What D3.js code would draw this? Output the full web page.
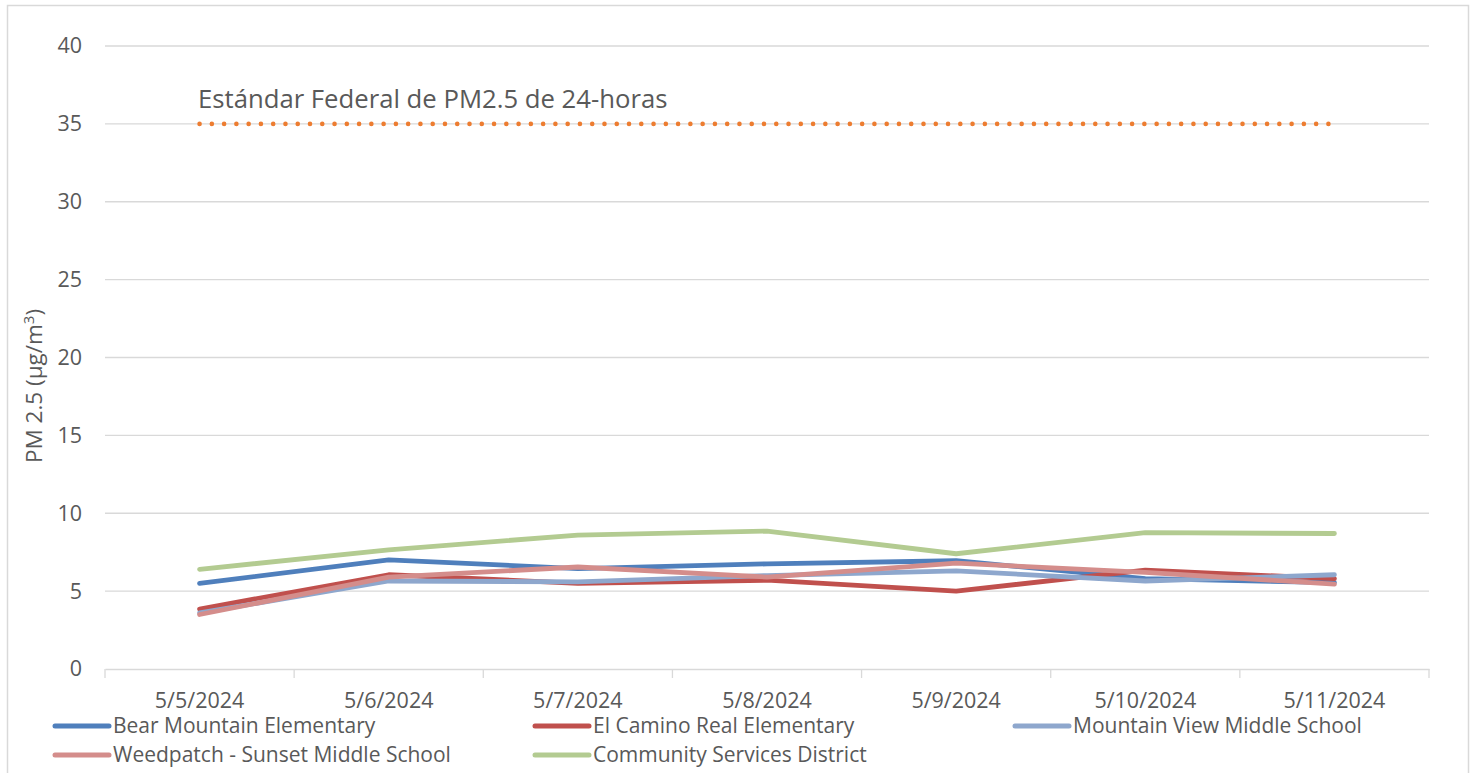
<!DOCTYPE html>
<html><head><meta charset="utf-8">
<script src="https://cdn.jsdelivr.net/npm/d3@7"></script>
<style>
html,body{margin:0;padding:0;background:#fff;}
svg{display:block;font-family:"Open Sans",sans-serif;}
</style></head>
<body><svg id="c" width="1473" height="773"></svg>
<script>
const categories = ["5/5/2024","5/6/2024","5/7/2024","5/8/2024","5/9/2024","5/10/2024","5/11/2024"];
const bearMountain  = [5.5, 7.0, 6.45, 6.75, 6.95, 5.8, 5.55];
const elCamino      = [3.85, 6.05, 5.5, 5.7, 5.0, 6.35, 5.8];
const mountainView  = [3.6, 5.65, 5.6, 6.0, 6.3, 5.65, 6.05];
const weedpatch     = [3.5, 5.9, 6.55, 5.9, 6.8, 6.2, 5.45];
const community     = [6.4, 7.65, 8.6, 8.85, 7.4, 8.75, 8.7];
const federalStd    = [35, 35, 35, 35, 35, 35, 35];
const yTicks = [0,5,10,15,20,25,30,35,40];
const seriesNames = ["Bear Mountain Elementary","El Camino Real Elementary","Mountain View Middle School","Weedpatch - Sunset Middle School","Community Services District"];
const seriesColors = ["#4F7FBC","#C0504D","#8EA7CD","#D48D8B","#B3CB91"];
const seriesData = [bearMountain, elCamino, mountainView, weedpatch, community];
const federalLabel = "Estándar Federal de PM2.5 de 24-horas";

const svg = d3.select("#c");
svg.append("rect").attr("x",7.5).attr("y",5.5).attr("width",1461).attr("height",780)
  .attr("fill","none").attr("stroke","#d9d9d9").attr("stroke-width",1.5);

const x = d3.scaleBand().domain(categories).range([105,1429]);
const y = d3.scaleLinear().domain([0,40]).range([669,46]);
const cx = d => x(d) + x.bandwidth()/2;

// gridlines
svg.append("g").selectAll("line").data(yTicks.filter(t=>t>0)).join("line")
  .attr("x1",105).attr("x2",1429).attr("y1",d=>y(d)).attr("y2",d=>y(d))
  .attr("stroke","#d9d9d9").attr("stroke-width",1.3);

// y axis labels
const ya = svg.append("g").attr("transform","translate(82,0)")
  .call(d3.axisLeft(y).tickValues(yTicks).tickSize(0).tickPadding(0));
ya.select(".domain").remove();
ya.selectAll("text").attr("font-family","'Open Sans',sans-serif").attr("font-size",21.5).attr("fill","#595959");

// x axis
const xa = svg.append("g").attr("transform","translate(0,669)")
  .call(d3.axisBottom(x).tickSize(0).tickPadding(0));
xa.select(".domain").attr("stroke","#d9d9d9").attr("stroke-width",1.3);
xa.selectAll("text").attr("font-family","'Open Sans',sans-serif").attr("font-size",21.5).attr("fill","#595959").attr("dy",null).attr("y",39);
// tick marks at band boundaries
const bounds = categories.map(c=>x(c)).concat([x(categories[categories.length-1])+x.bandwidth()]);
svg.append("g").selectAll("line").data(bounds).join("line")
  .attr("x1",d=>d).attr("x2",d=>d).attr("y1",669).attr("y2",678)
  .attr("stroke","#d9d9d9").attr("stroke-width",1.3);

// y axis title
svg.append("text").attr("transform","translate(42,386) rotate(-90)")
  .attr("text-anchor","middle").attr("font-size",22.5).attr("fill","#595959")
  .html('PM 2.5 (µg/m<tspan dy="-8" font-size="15">3</tspan><tspan dy="8">)</tspan>');

// series lines
const line = d3.line().x((d,i)=>cx(categories[i])).y(d=>y(d));
seriesData.forEach((s,i)=>{
  svg.append("path").datum(s).attr("d",line).attr("fill","none")
    .attr("stroke",seriesColors[i]).attr("stroke-width",4.8)
    .attr("stroke-linecap","round").attr("stroke-linejoin","round");
});

// federal standard dotted line
svg.append("path").datum(federalStd).attr("d",line).attr("fill","none")
  .attr("stroke","#ED7D31").attr("stroke-width",4.6)
  .attr("stroke-linecap","round").attr("stroke-dasharray","0 12.27");
svg.append("text").attr("x",198).attr("y",108).attr("font-size",25.7).attr("fill","#595959").text(federalLabel);

// legend
const legendPos = [[55,726],[535,726],[1015,726],[55,755],[535,755]];
seriesNames.forEach((n,i)=>{
  const [lx,ly] = legendPos[i];
  svg.append("line").attr("x1",lx).attr("x2",lx+54).attr("y1",ly).attr("y2",ly)
    .attr("stroke",seriesColors[i]).attr("stroke-width",5).attr("stroke-linecap","round");
  svg.append("text").attr("x",lx+58).attr("y",ly).attr("dy","0.35em")
    .attr("font-size",21).attr("fill","#595959").text(n);
});
</script></body></html>
